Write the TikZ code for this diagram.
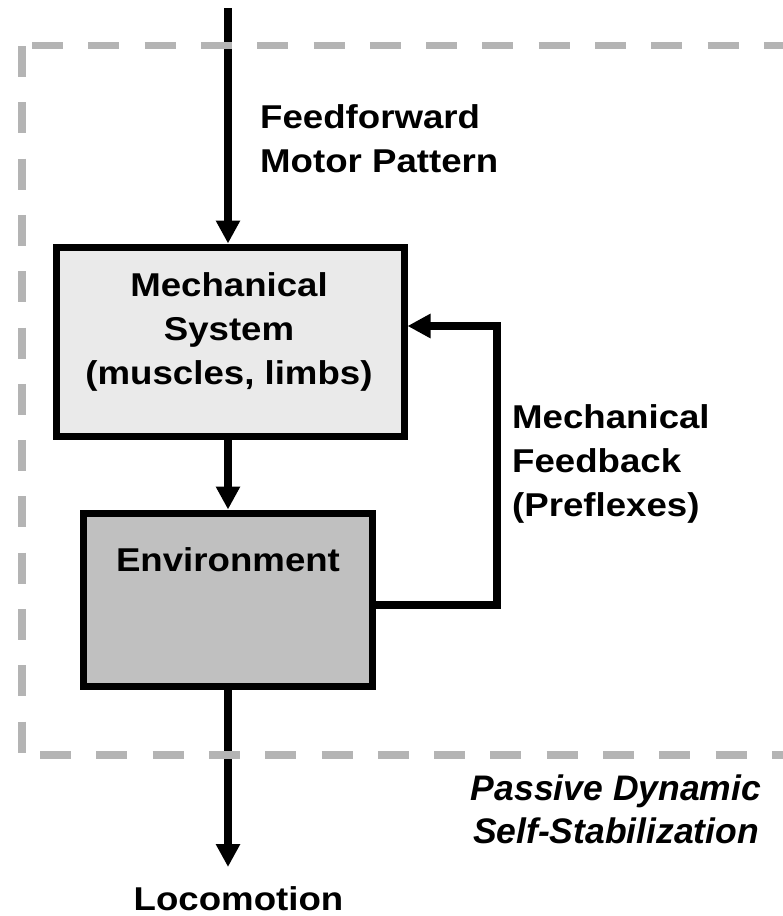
\documentclass[tikz,border=0pt]{standalone}
\usepackage{fontspec}
\setmainfont{Liberation Sans}
\newfontfamily\widefont[FakeStretch=1.11]{Liberation Sans}
\usetikzlibrary{arrows.meta}
\definecolor{framegray}{RGB}{180,180,180}
\definecolor{mechfill}{RGB}{234,234,234}
\definecolor{envfill}{RGB}{192,192,192}
\begin{document}
\begin{tikzpicture}[x=1pt,y=-1pt,
  conn/.style={line width=7.5pt, draw=black, line join=miter},
  arr/.style={conn, -{Triangle[width=23pt,length=23pt]}},
  blockbox/.style={draw=black, line width=7pt, rectangle, inner sep=0pt},
  lbl/.style={font=\widefont\bfseries\fontsize{33}{44}\selectfont, inner sep=0pt},
  itlbl/.style={font=\bfseries\itshape\fontsize{35.5}{43}\selectfont, inner sep=0pt},
  frameline/.style={draw=framegray, line width=7.5pt, dash pattern=on 31pt off 25.3pt}
]
\useasboundingbox (0,0) rectangle (783,916);

% blocks
\node[blockbox, fill=mechfill, minimum width=348pt, minimum height=189pt] (mech) at (230,341.5) {};
\node[blockbox, fill=envfill, minimum width=289pt, minimum height=173pt] (env) at (227.5,599.5) {};

% texts (base anchor = baseline of the last line)
\node[lbl, anchor=base, align=center] (mechtxt) at (229,384) {Mechanical\\System\\(muscles, limbs)};
\node[lbl, anchor=base] (envtxt) at (228,571) {Environment};
\node[lbl, anchor=base west, align=left] (fftxt) at (260,172) {Feedforward\\Motor Pattern};
\node[lbl, anchor=base west, align=left] (fbtxt) at (512,516) {Mechanical\\Feedback\\(Preflexes)};
\node[itlbl, anchor=base, align=center] (pdtxt) at (616,843) {Passive Dynamic\\Self-Stabilization};
\node[lbl, anchor=base] (loco) at (238.5,910) {Locomotion};

% connectors
\coordinate (topin) at (228,8);
\coordinate (locoend) at (228,867);
\coordinate (fbR) at (497,326);
\draw[arr] (topin) -- (topin |- mech.north);
\draw[arr] (topin |- mech.south) -- (topin |- env.north);
\draw[arr] ([yshift=3pt]topin |- env.south) -- (locoend);
\draw[arr] ([yshift=-5.5pt]env.east) -| (fbR) -- (fbR -| mech.east);

% dashed frame
\draw[frameline] (32,45.5) -- (800,45.5);
\draw[frameline] (22,46) -- (22,760);
\draw[frameline] (40,755) -- (800,755);
\end{tikzpicture}
\end{document}
